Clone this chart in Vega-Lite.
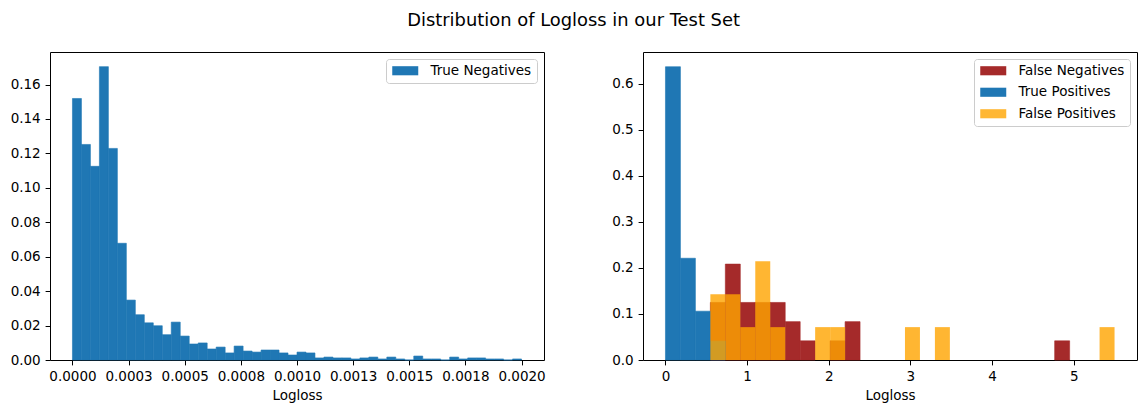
{
  "$schema": "https://vega.github.io/schema/vega-lite/v6.json",
  "padding": {"left": 9, "top": 11, "right": 5, "bottom": 5},
  "title": {
    "text": "Distribution of Logloss in our Test Set",
    "fontSize": 17.9,
    "fontWeight": "normal",
    "color": "black",
    "anchor": "middle",
    "offset": 22
  },
  "config": {
    "font": "DejaVu Sans",
    "view": {"stroke": "black", "strokeWidth": 1},
    "axis": {
      "grid": false,
      "domain": false,
      "tickColor": "black",
      "tickSize": 4.9,
      "labelColor": "black",
      "labelFontSize": 13.5,
      "labelPadding": 4.9,
      "titleFontSize": 13.5,
      "titleFontWeight": "normal",
      "titleColor": "black",
      "titlePadding": 5
    },
    "legend": {
      "orient": "top-right",
      "offset": 7,
      "strokeColor": "#cccccc",
      "fillColor": "rgba(255,255,255,0.8)",
      "cornerRadius": 3,
      "padding": 5,
      "symbolOffset": 7.5,
      "labelFontSize": 13.5,
      "labelColor": "black",
      "labelOffset": 18.5,
      "symbolType": "M-2,-0.7L2,-0.7L2,0.7L-2,0.7Z",
      "symbolSize": 169,
      "symbolStrokeWidth": 0,
      "rowPadding": 6.5
    }
  },
  "spacing": 65,
  "resolve": {
    "scale": {"color": "independent"},
    "legend": {"color": "independent"}
  },
  "hconcat": [
    {
      "width": 494,
      "height": 308,
      "data": {
        "values": [
          {"lo": 0.00000, "hi": 0.00004, "frac": 0.1519},
          {"lo": 0.00004, "hi": 0.00008, "frac": 0.1252},
          {"lo": 0.00008, "hi": 0.00012, "frac": 0.1125},
          {"lo": 0.00012, "hi": 0.00016, "frac": 0.1704},
          {"lo": 0.00016, "hi": 0.00020, "frac": 0.1229},
          {"lo": 0.00020, "hi": 0.00024, "frac": 0.0678},
          {"lo": 0.00024, "hi": 0.00028, "frac": 0.0348},
          {"lo": 0.00028, "hi": 0.00032, "frac": 0.0263},
          {"lo": 0.00032, "hi": 0.00036, "frac": 0.0216},
          {"lo": 0.00036, "hi": 0.00040, "frac": 0.0199},
          {"lo": 0.00040, "hi": 0.00044, "frac": 0.0147},
          {"lo": 0.00044, "hi": 0.00048, "frac": 0.0220},
          {"lo": 0.00048, "hi": 0.00052, "frac": 0.0139},
          {"lo": 0.00052, "hi": 0.00056, "frac": 0.0093},
          {"lo": 0.00056, "hi": 0.00060, "frac": 0.0099},
          {"lo": 0.00060, "hi": 0.00064, "frac": 0.0064},
          {"lo": 0.00064, "hi": 0.00068, "frac": 0.0075},
          {"lo": 0.00068, "hi": 0.00072, "frac": 0.0041},
          {"lo": 0.00072, "hi": 0.00076, "frac": 0.0081},
          {"lo": 0.00076, "hi": 0.00080, "frac": 0.0052},
          {"lo": 0.00080, "hi": 0.00084, "frac": 0.0046},
          {"lo": 0.00084, "hi": 0.00088, "frac": 0.0058},
          {"lo": 0.00088, "hi": 0.00092, "frac": 0.0058},
          {"lo": 0.00092, "hi": 0.00096, "frac": 0.0041},
          {"lo": 0.00096, "hi": 0.00100, "frac": 0.0029},
          {"lo": 0.00100, "hi": 0.00104, "frac": 0.0046},
          {"lo": 0.00104, "hi": 0.00108, "frac": 0.0041},
          {"lo": 0.00108, "hi": 0.00112, "frac": 0.0012},
          {"lo": 0.00112, "hi": 0.00116, "frac": 0.0017},
          {"lo": 0.00116, "hi": 0.00120, "frac": 0.0012},
          {"lo": 0.00120, "hi": 0.00124, "frac": 0.0012},
          {"lo": 0.00124, "hi": 0.00128, "frac": 0.0006},
          {"lo": 0.00128, "hi": 0.00132, "frac": 0.0012},
          {"lo": 0.00132, "hi": 0.00136, "frac": 0.0017},
          {"lo": 0.00136, "hi": 0.00140, "frac": 0.0006},
          {"lo": 0.00140, "hi": 0.00144, "frac": 0.0017},
          {"lo": 0.00144, "hi": 0.00148, "frac": 0.0006},
          {"lo": 0.00148, "hi": 0.00152, "frac": 0.0},
          {"lo": 0.00152, "hi": 0.00156, "frac": 0.0023},
          {"lo": 0.00156, "hi": 0.00160, "frac": 0.0006},
          {"lo": 0.00160, "hi": 0.00164, "frac": 0.0006},
          {"lo": 0.00164, "hi": 0.00168, "frac": 0.0},
          {"lo": 0.00168, "hi": 0.00172, "frac": 0.0017},
          {"lo": 0.00172, "hi": 0.00176, "frac": 0.0006},
          {"lo": 0.00176, "hi": 0.00180, "frac": 0.0012},
          {"lo": 0.00180, "hi": 0.00184, "frac": 0.0012},
          {"lo": 0.00184, "hi": 0.00188, "frac": 0.0006},
          {"lo": 0.00188, "hi": 0.00192, "frac": 0.0006},
          {"lo": 0.00192, "hi": 0.00196, "frac": 0.0},
          {"lo": 0.00196, "hi": 0.00200, "frac": 0.0006}
        ]
      },
      "mark": {"type": "bar", "stroke": "#1f77b4", "strokeWidth": 0.6},
      "encoding": {
        "x": {
          "field": "lo",
          "type": "quantitative",
          "scale": {"domain": [-0.0001, 0.0021], "nice": false, "zero": false},
          "axis": {
            "values": [0, 0.00025, 0.0005, 0.00075, 0.001, 0.00125, 0.0015, 0.00175, 0.002],
            "labelExpr": "format(datum.value + 1e-9, '.4f')",
            "title": "Logloss"
          }
        },
        "x2": {"field": "hi"},
        "y": {
          "field": "frac",
          "type": "quantitative",
          "scale": {"domain": [0, 0.1789], "nice": false},
          "axis": {
            "values": [0, 0.02, 0.04, 0.06, 0.08, 0.1, 0.12, 0.14, 0.16],
            "format": ".2f",
            "title": null
          }
        },
        "y2": {"datum": 0},
        "color": {
          "datum": "True Negatives",
          "type": "nominal",
          "scale": {"domain": ["True Negatives"], "range": ["#1f77b4"]},
          "legend": {"title": null}
        }
      }
    },
    {
      "width": 494,
      "height": 308,
      "data": {
        "values": [
          {"lo": 0.55, "hi": 0.7333, "frac": 0.125, "series": "False Negatives"},
          {"lo": 0.7333, "hi": 0.9167, "frac": 0.2083, "series": "False Negatives"},
          {"lo": 0.9167, "hi": 1.1, "frac": 0.125, "series": "False Negatives"},
          {"lo": 1.1, "hi": 1.2833, "frac": 0.125, "series": "False Negatives"},
          {"lo": 1.2833, "hi": 1.4667, "frac": 0.125, "series": "False Negatives"},
          {"lo": 1.4667, "hi": 1.65, "frac": 0.0833, "series": "False Negatives"},
          {"lo": 1.65, "hi": 1.8333, "frac": 0.0417, "series": "False Negatives"},
          {"lo": 2.0167, "hi": 2.2, "frac": 0.0417, "series": "False Negatives"},
          {"lo": 2.2, "hi": 2.3833, "frac": 0.0833, "series": "False Negatives"},
          {"lo": 4.7667, "hi": 4.95, "frac": 0.0417, "series": "False Negatives"},
          {"lo": 0.0, "hi": 0.1833, "frac": 0.637, "series": "True Positives"},
          {"lo": 0.1833, "hi": 0.3667, "frac": 0.221, "series": "True Positives"},
          {"lo": 0.3667, "hi": 0.55, "frac": 0.106, "series": "True Positives"},
          {"lo": 0.55, "hi": 0.7333, "frac": 0.041, "series": "True Positives"},
          {"lo": 0.55, "hi": 0.7333, "frac": 0.1429, "series": "False Positives"},
          {"lo": 0.7333, "hi": 0.9167, "frac": 0.1429, "series": "False Positives"},
          {"lo": 0.9167, "hi": 1.1, "frac": 0.0714, "series": "False Positives"},
          {"lo": 1.1, "hi": 1.2833, "frac": 0.2143, "series": "False Positives"},
          {"lo": 1.2833, "hi": 1.4667, "frac": 0.0714, "series": "False Positives"},
          {"lo": 1.8333, "hi": 2.0167, "frac": 0.0714, "series": "False Positives"},
          {"lo": 2.0167, "hi": 2.2, "frac": 0.0714, "series": "False Positives"},
          {"lo": 2.9333, "hi": 3.1167, "frac": 0.0714, "series": "False Positives"},
          {"lo": 3.3, "hi": 3.4833, "frac": 0.0714, "series": "False Positives"},
          {"lo": 5.3167, "hi": 5.5, "frac": 0.0714, "series": "False Positives"}
        ]
      },
      "encoding": {
        "x": {
          "field": "lo",
          "type": "quantitative",
          "scale": {"domain": [-0.275, 5.775], "nice": false, "zero": false},
          "axis": {"values": [0, 1, 2, 3, 4, 5], "format": "d", "title": "Logloss"}
        },
        "x2": {"field": "hi"},
        "y": {
          "field": "frac",
          "type": "quantitative",
          "stack": null,
          "scale": {"domain": [0, 0.669], "nice": false},
          "axis": {"values": [0, 0.1, 0.2, 0.3, 0.4, 0.5, 0.6], "format": ".1f", "title": null}
        },
        "y2": {"datum": 0}
      },
      "layer": [
        {
          "mark": {"type": "bar", "strokeWidth": 0.6},
          "encoding": {
            "fill": {
              "field": "series",
              "type": "nominal",
              "scale": {
                "domain": ["False Negatives", "True Positives", "False Positives"],
                "range": ["#a52a2a", "#1f77b4", "#ffa500"]
              },
              "legend": null
            },
            "stroke": {
              "field": "series",
              "type": "nominal",
              "scale": {
                "domain": ["False Negatives", "True Positives", "False Positives"],
                "range": ["#a52a2a", "#1f77b4", "#ffa500"]
              },
              "legend": null
            },
            "strokeOpacity": {
              "condition": {"test": "datum.series === 'False Positives'", "value": 0},
              "value": 1
            },
            "opacity": {
              "condition": {"test": "datum.series === 'False Positives'", "value": 0.8},
              "value": 1
            }
          }
        },
        {
          "transform": [{"filter": "false"}],
          "mark": {"type": "bar"},
          "encoding": {
            "color": {
              "field": "series",
              "type": "nominal",
              "scale": {
                "domain": ["False Negatives", "True Positives", "False Positives"],
                "range": ["#a52a2a", "#1f77b4", "#ffb733"]
              },
              "legend": {"title": null}
            }
          }
        }
      ]
    }
  ]
}
